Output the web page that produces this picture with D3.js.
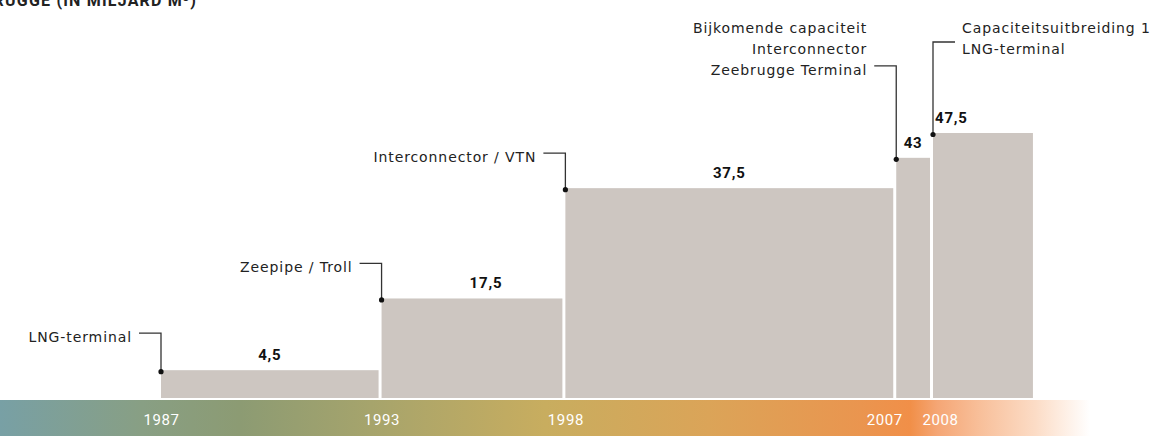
<!DOCTYPE html>
<html>
<head>
<meta charset="utf-8">
<script src="https://cdn.jsdelivr.net/npm/d3@7"></script>
<style>
  html, body { margin: 0; padding: 0; background: #fff; }
  svg { display: block; }
  text { font-family: Roboto, "DejaVu Sans", sans-serif; }
</style>
</head>
<body>
<svg id="chart" width="1155" height="440"></svg>
<script>
// capaciteit per periode (miljard m3)
const startYears = [1987, 1993, 1998, 2007, 2008]
const lastEndYear = 2010.8
const capacity = [4.5, 17.5, 37.5, 43, 47.5]
const valueLabels = ["4,5", "17,5", "37,5", "43", "47,5"]
const projects = [
  ["LNG-terminal"],
  ["Zeepipe / Troll"],
  ["Interconnector  / VTN"],
  ["Bijkomende capaciteit", "Interconnector", "Zeebrugge Terminal"],
  ["Capaciteitsuitbreiding 1", "LNG-terminal"]
]
const yearTicks = [1987, 1993, 1998, 2007, 2008]
const titleText = "ZEEBRUGGE (IN MILJARD M³)"

const svg = d3.select("#chart")
const bandTop = 400, bandH = 36

const x = d3.scaleLinear().domain([1987, 2008]).range([161, 933])
const y = d3.scaleLinear().domain([0, 47.5]).range([395, 133])

// titel (bovenaan afgesneden, zoals in het origineel)
svg.append("text")
  .attr("x", 197).attr("y", 6)
  .attr("text-anchor", "end")
  .attr("font-size", 16).attr("font-weight", "bold")
  .attr("letter-spacing", 1.2)
  .attr("fill", "#222")
  .text(titleText)

// kleurband
const grad = svg.append("defs").append("linearGradient")
  .attr("id", "band").attr("gradientUnits", "userSpaceOnUse")
  .attr("x1", 0).attr("x2", 1090).attr("y1", 0).attr("y2", 0)
const stops = [
  [0, "#78a0a5"], [0.13, "#889f84"], [0.22, "#8c9b73"], [0.34, "#a6a46c"],
  [0.5, "#c8ad5f"], [0.65, "#dba458"], [0.79, "#ea954f"], [0.835, "#f18f48"],
  [0.86, "#f5a675"], [0.9, "#f8c09b"], [0.95, "#fcdcc6"], [1, "#ffffff"]
]
grad.selectAll("stop").data(stops).join("stop")
  .attr("offset", d => d[0]).attr("stop-color", d => d[1])

svg.append("rect")
  .attr("x", 0).attr("y", bandTop)
  .attr("width", 1090).attr("height", bandH)
  .attr("fill", "url(#band)")

// staven
const bars = startYears.map((s, i) => ({
  start: s,
  end: i < startYears.length - 1 ? startYears[i + 1] : lastEndYear,
  value: capacity[i],
  label: valueLabels[i],
  lines: projects[i],
  i: i
}))

svg.selectAll("rect.bar").data(bars).join("rect")
  .attr("class", "bar")
  .attr("x", d => x(d.start))
  .attr("y", d => y(d.value))
  .attr("width", d => x(d.end) - x(d.start) - 3)
  .attr("height", d => bandTop - 2 - y(d.value))
  .attr("fill", "#cdc6c1")

// waardelabels
svg.selectAll("text.val").data(bars).join("text")
  .attr("class", "val")
  .attr("x", d => d.i === bars.length - 1 ? x(d.start) + 2 : (x(d.start) + x(d.end) - 3) / 2 + (d.i === 1 ? 14 : 0))
  .attr("y", d => y(d.value) - 10)
  .attr("text-anchor", d => d.i === bars.length - 1 ? "start" : "middle")
  .attr("font-size", 15).attr("font-weight", "bold")
  .attr("letter-spacing", 0.8)
  .attr("fill", "#111")
  .text(d => d.label)

// callouts
const rise = [37, 35, 35, 92, 91]
const lineH = 21
bars.forEach(d => {
  const ax = x(d.start), ay = y(d.value) + 1.5
  const ey = y(d.value) - rise[d.i]
  const right = d.i === bars.length - 1
  const hx = right ? ax + 22 : ax - 22
  const g = svg.append("g")
  g.append("path")
    .attr("d", `M${hx},${ey}H${ax}V${ay}`)
    .attr("fill", "none").attr("stroke", "#333").attr("stroke-width", 1.3)
  g.append("circle").attr("cx", ax).attr("cy", ay).attr("r", 2.6).attr("fill", "#111")
  const n = d.lines.length
  const lastBase = right ? ey + 12 : ey + 9
  g.append("text")
    .attr("text-anchor", right ? "start" : "end")
    .style("font-family", "'DejaVu Sans', sans-serif")
    .attr("font-size", 14).attr("letter-spacing", 0.9)
    .attr("fill", "#222")
    .selectAll("tspan").data(d.lines).join("tspan")
    .attr("x", right ? hx + 7 : hx - 7)
    .attr("y", (t, k) => lastBase - (n - 1 - k) * lineH)
    .text(t => t)
})

// jaren op de band
const axis = d3.axisBottom(x).tickValues(yearTicks).tickSize(0).tickFormat(d3.format("d"))
const ax = svg.append("g").attr("transform", `translate(0,${bandTop + 11})`).call(axis)
ax.select(".domain").remove()
ax.selectAll("text")
  .attr("font-size", 15)
  .attr("letter-spacing", 0.6)
  .attr("fill", "#fff")
  .attr("dx", d => d === 2007 ? -12 : d === 2008 ? 7 : 0)
</script>
</body>
</html>
